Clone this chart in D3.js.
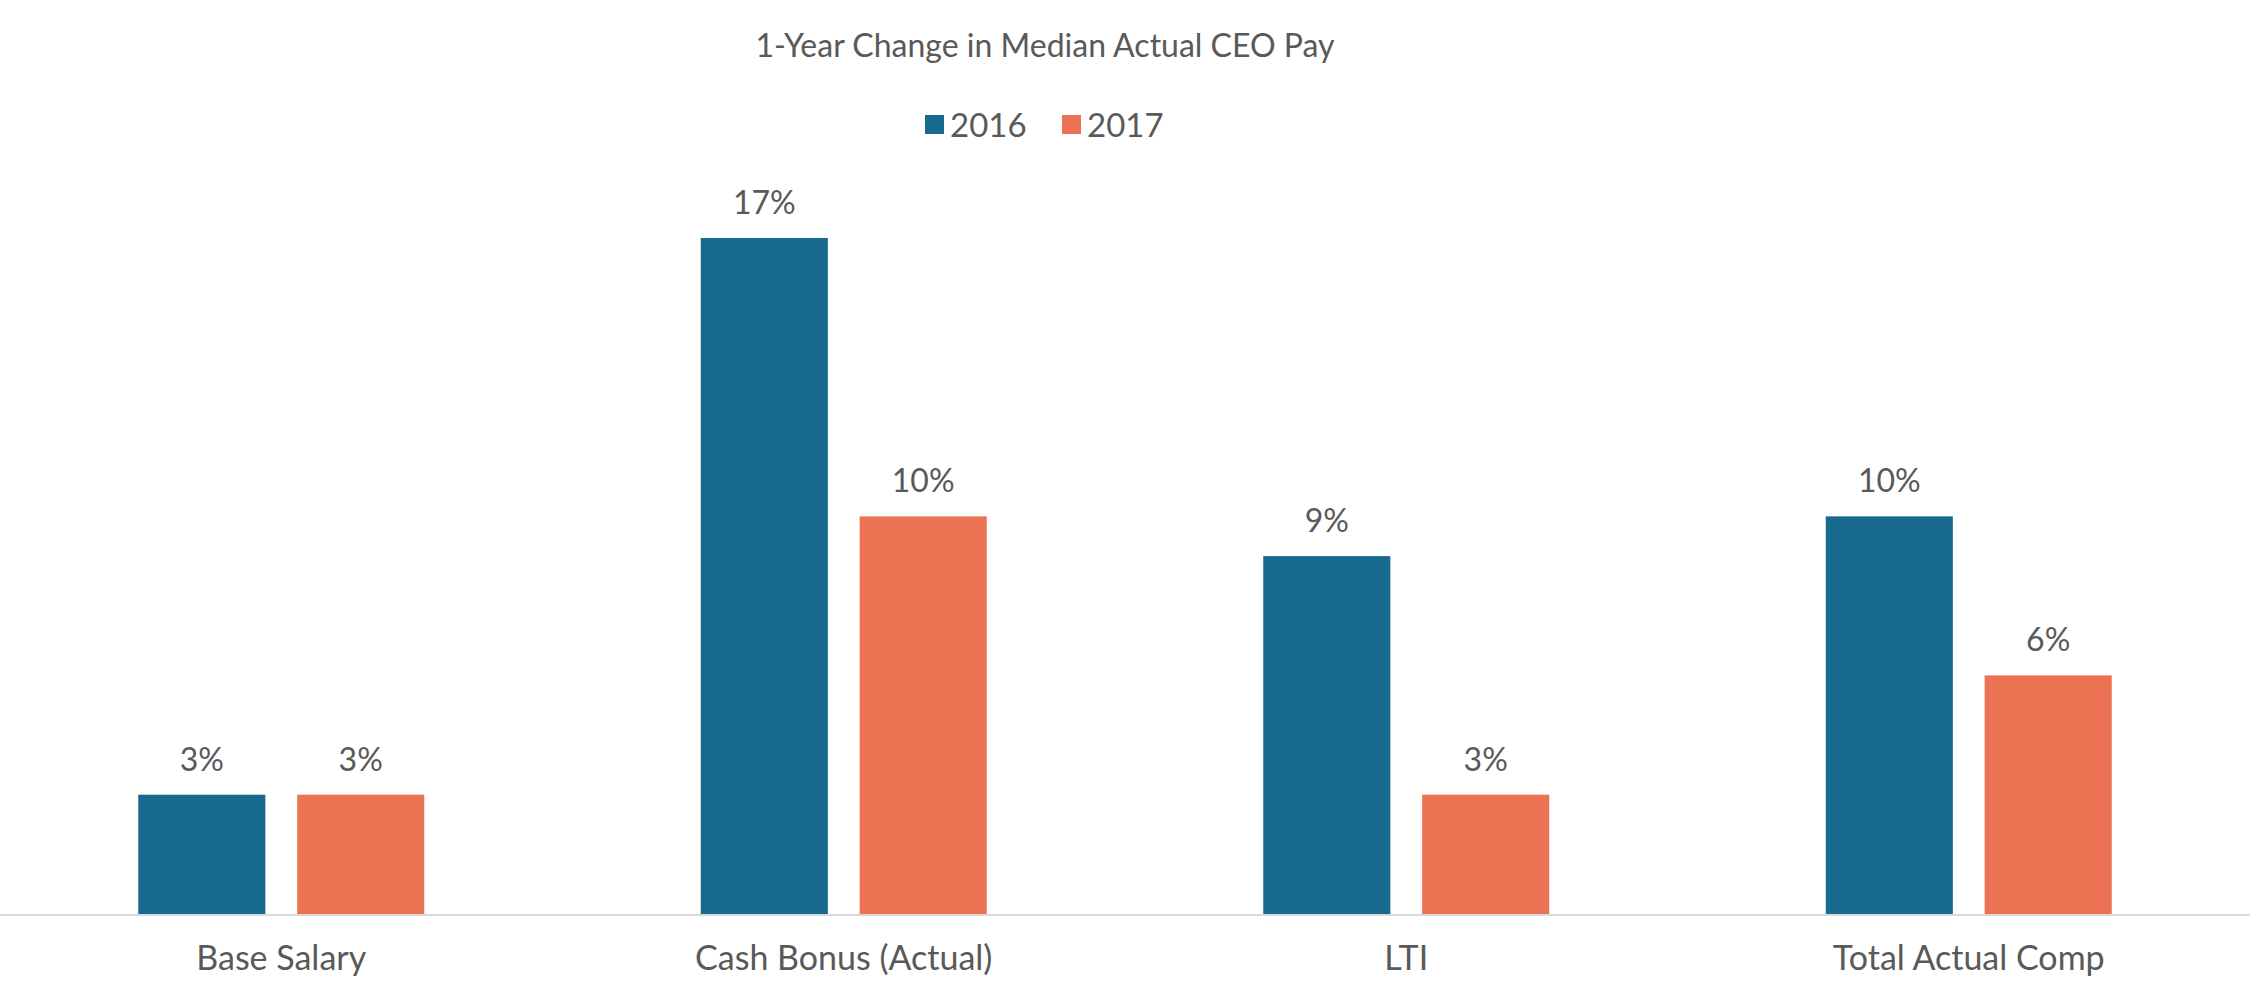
<!DOCTYPE html>
<html><head><meta charset="utf-8">
<script src="https://cdn.jsdelivr.net/npm/d3@7"></script>
<style>
body{margin:0;background:#fff;}
text{font-family:Lato,"Open Sans",sans-serif;fill:#595959;}
</style></head>
<body><svg id="chart" width="2250" height="1000"></svg>
<script>
const categories = ["Base Salary", "Cash Bonus (Actual)", "LTI", "Total Actual Comp"];
const seriesNames = ["2016", "2017"];
const values2016 = [3, 17, 9, 10];
const values2017 = [3, 10, 3, 6];
const colors = ["#17698e", "#eb7354"];

const W = 2250, H = 1000;
const svg = d3.select("#chart");
const baseline = 914;

const x = d3.scaleBand().domain(categories).range([0, W]);
const xs = d3.scaleBand().domain(seriesNames).range([0, 286]).paddingInner(0.2);
const y = d3.scaleLinear().domain([0, 17]).range([baseline, 238]);

svg.append("text").attr("x", 1045).attr("y", 57).attr("text-anchor", "middle")
  .attr("font-size", 32).text("1-Year Change in Median Actual CEO Pay");

const leg = svg.append("g").attr("transform", "translate(925,125)");
seriesNames.forEach((s, i) => {
  const gx = i * 137;
  leg.append("rect").attr("x", gx).attr("y", -10).attr("width", 19).attr("height", 19).attr("fill", colors[i]);
  leg.append("text").attr("x", gx + 25).attr("y", 12).attr("font-size", 33).text(s);
});

const data = categories.map((c, i) => ({c, vals: [values2016[i], values2017[i]]}));
data.forEach(d => {
  const cx = x(d.c) + x.bandwidth() / 2 - 143;
  d.vals.forEach((v, j) => {
    const bx = cx + xs(seriesNames[j]);
    svg.append("rect").attr("x", bx).attr("y", y(v)).attr("width", xs.bandwidth())
      .attr("height", baseline - y(v)).attr("fill", colors[j]);
    svg.append("text").attr("x", bx + xs.bandwidth() / 2).attr("y", y(v) - 24)
      .attr("text-anchor", "middle").attr("font-size", 32).text(v + "%");
  });
  svg.append("text").attr("x", x(d.c) + x.bandwidth() / 2).attr("y", 970)
    .attr("text-anchor", "middle").attr("font-size", 34).text(d.c);
});

svg.append("line").attr("x1", 0).attr("x2", W).attr("y1", baseline + 1).attr("y2", baseline + 1)
  .attr("stroke", "#d9d9d9").attr("stroke-width", 2);
</script></body></html>
